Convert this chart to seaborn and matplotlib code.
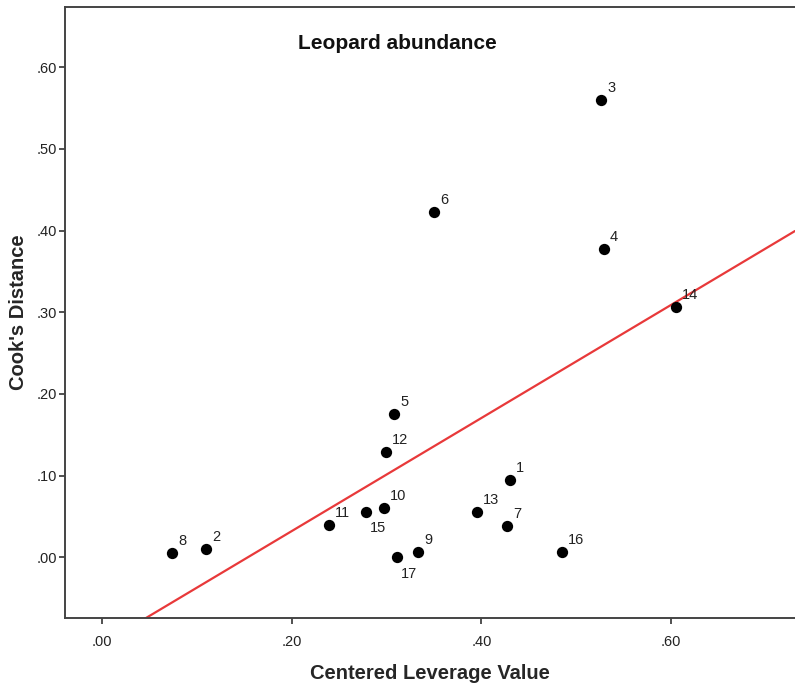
import matplotlib
matplotlib.use("Agg")
import matplotlib.pyplot as plt
import seaborn as sns
import pandas as pd
import numpy as np

case_ids = [1, 2, 3, 4, 5, 6, 7, 8, 9, 10, 11, 12, 13, 14, 15, 16, 17]
leverage = [0.4302, 0.1096, 0.5261, 0.5293, 0.3082, 0.3500, 0.4270, 0.0741, 0.3335,
            0.2977, 0.2393, 0.2991, 0.3957, 0.6048, 0.2783, 0.4853, 0.3107]
cooks = [0.0946, 0.0098, 0.5600, 0.3774, 0.1750, 0.4230, 0.0383, 0.0056, 0.0069,
         0.0600, 0.0395, 0.1293, 0.0558, 0.3067, 0.0558, 0.0061, 0.0000]
below_labels = [15, 17]
x_ticks = [0.0, 0.2, 0.4, 0.6]
y_ticks = [0.0, 0.1, 0.2, 0.3, 0.4, 0.5, 0.6]

df = pd.DataFrame({"case": case_ids, "lev": leverage, "cook": cooks})

sns.set_style("white")
plt.rcParams["font.family"] = ["Liberation Sans", "DejaVu Sans"]

fig = plt.figure(figsize=(7.95, 6.87), dpi=100)
ax = fig.add_axes([65/795, 1 - 618.3/687, 1 - 65/795, (618.3 - 7)/687])
ax.set_xlim(-0.039, 0.7306)
ax.set_ylim(-0.0747, 0.6736)

sns.regplot(data=df, x="lev", y="cook", ax=ax, ci=None, truncate=False,
            scatter_kws=dict(s=66, color="black", edgecolor="black", linewidths=0,
                             alpha=1, zorder=3),
            line_kws=dict(color="#e8393a", lw=1.6, zorder=2))
ax.set_xlim(-0.039, 0.7306)
ax.set_ylim(-0.0747, 0.6736)

for c, x, y in zip(case_ids, leverage, cooks):
    if c in below_labels:
        off = (3, -12)
    else:
        off = (4.3, 8.6)
    ax.annotate(str(c), (x, y), xytext=off, textcoords="offset points",
                ha="left", va="center", fontsize=10.5, color="#222222")

ax.set_xticks(x_ticks)
ax.set_yticks(y_ticks)
ax.set_xticklabels([f"{t:.2f}".lstrip("0") for t in x_ticks])
ax.set_yticklabels([f"{t:.2f}".lstrip("0") for t in y_ticks])
ax.tick_params(axis="both", direction="out", length=4, width=1.2, color="#333333",
               labelsize=10.5, labelcolor="#222222", bottom=True, left=True)
ax.tick_params(axis="x", pad=8)
ax.tick_params(axis="y", pad=2)

for s in ["left", "bottom", "top"]:
    ax.spines[s].set_color("#444444")
    ax.spines[s].set_linewidth(1.4)
ax.spines["right"].set_visible(False)

ax.set_xlabel("Centered Leverage Value", fontsize=14.5, fontweight="bold", labelpad=11)
ax.set_ylabel("Cook's Distance", fontsize=14.5, fontweight="bold", labelpad=6)
ax.text(0.455, 0.941, "Leopard abundance", transform=ax.transAxes, ha="center", va="center",
        fontsize=15, fontweight="bold", color="#111111")

fig.savefig("out.png", dpi=100)
